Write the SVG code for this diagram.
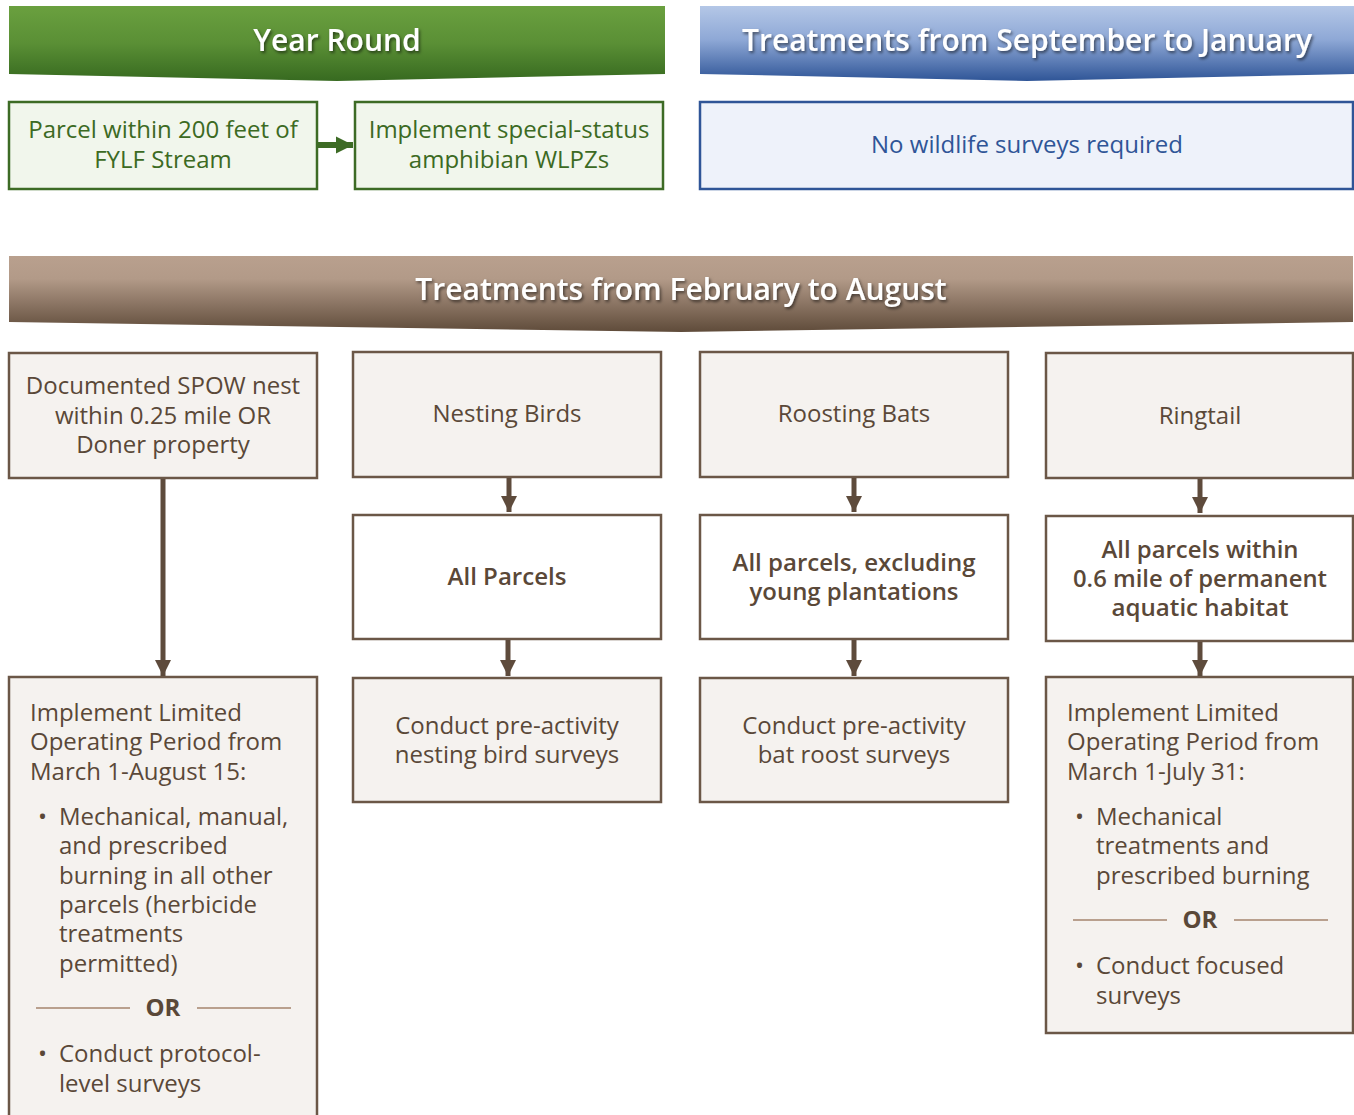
<svg xmlns="http://www.w3.org/2000/svg" width="1354" height="1115" viewBox="0 0 1354 1115">
  <defs>
    <linearGradient id="gGreen" x1="0" y1="0" x2="0" y2="1">
      <stop offset="0" stop-color="#6aa03f"/>
      <stop offset="0.5" stop-color="#5a8f35"/>
      <stop offset="1" stop-color="#376a20"/>
    </linearGradient>
    <linearGradient id="gBlue" x1="0" y1="0" x2="0" y2="1">
      <stop offset="0" stop-color="#b4c7e7"/>
      <stop offset="0.45" stop-color="#8ea8d6"/>
      <stop offset="1" stop-color="#2f5597"/>
    </linearGradient>
    <linearGradient id="gBrown" x1="0" y1="0" x2="0" y2="1">
      <stop offset="0" stop-color="#b9a08e"/>
      <stop offset="0.3" stop-color="#b29a88"/>
      <stop offset="1" stop-color="#5f4b3a"/>
    </linearGradient>
    <filter id="shadow" x="-10%" y="-30%" width="120%" height="160%">
      <feDropShadow dx="1.5" dy="2" stdDeviation="1.5" flood-color="#000" flood-opacity="0.55"/>
    </filter>
    <marker id="headBrown" viewBox="0 0 10 10" refX="10" refY="5" markerWidth="16" markerHeight="17" markerUnits="userSpaceOnUse" orient="auto">
      <path d="M0,0 L10,5 L0,10 Z" fill="#5e4b3c"/>
    </marker>
    <marker id="headGreen" viewBox="0 0 10 10" refX="10" refY="5" markerWidth="17" markerHeight="19" markerUnits="userSpaceOnUse" orient="auto">
      <path d="M0,0 L10,5 L0,10 Z" fill="#3d6b25"/>
    </marker>
  </defs>
  <style>
    text { font-family: "Open Sans", "Noto Sans", "DejaVu Sans", sans-serif; }
    .banner { fill: #ffffff; font-size: 30px; font-weight: 600; text-anchor: middle; filter: url(#shadow); }
    .gbox { fill: #f1f6ec; stroke: #3d6b25; stroke-width: 2.5; }
    .gtxt { fill: #3c6a23; font-size: 24px; text-anchor: middle; }
    .bbox { fill: #eef2fa; stroke: #2f5597; stroke-width: 2.5; }
    .btxt { fill: #2f5597; font-size: 24px; text-anchor: middle; }
    .nbox { fill: #f5f2ef; stroke: #6b5747; stroke-width: 2.5; }
    .wbox { fill: #ffffff; stroke: #6b5747; stroke-width: 2.5; }
    .ntxt { fill: #5a4838; font-size: 24px; text-anchor: middle; }
    .ltxt { fill: #5a4838; font-size: 24px; }
    .strong { fill: #5a4838; font-size: 24px; font-weight: 600; text-anchor: middle; }
    .orline { stroke: #b9a08e; stroke-width: 2; }
    .ortxt { fill: #5a4838; font-size: 24px; font-weight: 700; text-anchor: middle; }
    .conn { stroke: #5e4b3c; stroke-width: 5; fill: none; marker-end: url(#headBrown); }
    .gconn { stroke: #3d6b25; stroke-width: 6; fill: none; marker-end: url(#headGreen); }
  </style>

  <!-- section banners -->
  <g id="banner-year-round">
    <path d="M9,6 H665 V74 L337,81 L9,74 Z" fill="url(#gGreen)"/>
    <text class="banner" x="337" y="51">Year Round</text>
  </g>
  <g id="banner-sep-jan">
    <path d="M700,6 H1354 V74 L1027,81 L700,74 Z" fill="url(#gBlue)"/>
    <text class="banner" x="1027" y="51">Treatments from September to January</text>
  </g>
  <g id="banner-feb-aug">
    <path d="M9,256 H1353 V322 L681,332 L9,322 Z" fill="url(#gBrown)"/>
    <text class="banner" x="681" y="300">Treatments from February to August</text>
  </g>

  <!-- year round -->
  <g id="fylf-parcel">
    <rect class="gbox" x="9" y="102" width="308" height="87"/>
    <text class="gtxt" x="163" y="138">Parcel within 200 feet of</text>
    <text class="gtxt" x="163" y="168">FYLF Stream</text>
  </g>
  <g id="fylf-wlpz">
    <rect class="gbox" x="355" y="102" width="308" height="87"/>
    <text class="gtxt" x="509" y="138">Implement special-status</text>
    <text class="gtxt" x="509" y="168">amphibian WLPZs</text>
  </g>

  <!-- september to january -->
  <g id="no-surveys">
    <rect class="bbox" x="700" y="102" width="653" height="87"/>
    <text class="btxt" x="1027" y="153">No wildlife surveys required</text>
  </g>

  <!-- spotted owl column -->
  <g id="spow">
    <rect class="nbox" x="9" y="353" width="308" height="125"/>
    <text class="ntxt" x="163" y="394">Documented SPOW nest</text>
    <text class="ntxt" x="163" y="424">within 0.25 mile OR</text>
    <text class="ntxt" x="163" y="453">Doner property</text>
  </g>
  <g id="spow-lop">
    <rect class="nbox" x="9" y="677" width="308" height="460"/>
    <text class="ltxt" x="30" y="721">Implement Limited</text>
    <text class="ltxt" x="30" y="750">Operating Period from</text>
    <text class="ltxt" x="30" y="780">March 1-August 15:</text>
    <text class="ltxt" x="38" y="825">•</text>
    <text class="ltxt" x="59" y="825">Mechanical, manual,</text>
    <text class="ltxt" x="59" y="854">and prescribed</text>
    <text class="ltxt" x="59" y="884">burning in all other</text>
    <text class="ltxt" x="59" y="913">parcels (herbicide</text>
    <text class="ltxt" x="59" y="942">treatments</text>
    <text class="ltxt" x="59" y="972">permitted)</text>
    <line class="orline" x1="36" y1="1008" x2="130" y2="1008"/>
    <text class="ortxt" x="163" y="1016">OR</text>
    <line class="orline" x1="197" y1="1008" x2="291" y2="1008"/>
    <text class="ltxt" x="38" y="1062">•</text>
    <text class="ltxt" x="59" y="1062">Conduct protocol-</text>
    <text class="ltxt" x="59" y="1092">level surveys</text>
  </g>

  <!-- nesting birds column -->
  <g id="nesting-birds">
    <rect class="nbox" x="353" y="352" width="308" height="125"/>
    <text class="ntxt" x="507" y="422">Nesting Birds</text>
  </g>
  <g id="all-parcels">
    <rect class="wbox" x="353" y="515" width="308" height="124"/>
    <text class="strong" x="507" y="585" textLength="119" lengthAdjust="spacingAndGlyphs">All Parcels</text>
  </g>
  <g id="bird-surveys">
    <rect class="nbox" x="353" y="678" width="308" height="124"/>
    <text class="ntxt" x="507" y="734">Conduct pre-activity</text>
    <text class="ntxt" x="507" y="763">nesting bird surveys</text>
  </g>

  <!-- roosting bats column -->
  <g id="roosting-bats">
    <rect class="nbox" x="700" y="352" width="308" height="125"/>
    <text class="ntxt" x="854" y="422">Roosting Bats</text>
  </g>
  <g id="bat-parcels">
    <rect class="wbox" x="700" y="515" width="308" height="124"/>
    <text class="strong" x="854" y="571" textLength="243" lengthAdjust="spacingAndGlyphs">All parcels, excluding</text>
    <text class="strong" x="854" y="600" textLength="209" lengthAdjust="spacingAndGlyphs">young plantations</text>
  </g>
  <g id="bat-surveys">
    <rect class="nbox" x="700" y="678" width="308" height="124"/>
    <text class="ntxt" x="854" y="734">Conduct pre-activity</text>
    <text class="ntxt" x="854" y="763">bat roost surveys</text>
  </g>

  <!-- ringtail column -->
  <g id="ringtail">
    <rect class="nbox" x="1046" y="353" width="307" height="125"/>
    <text class="ntxt" x="1200" y="424">Ringtail</text>
  </g>
  <g id="ringtail-parcels">
    <rect class="wbox" x="1046" y="516" width="307" height="125"/>
    <text class="strong" x="1200" y="558" textLength="197" lengthAdjust="spacingAndGlyphs">All parcels within</text>
    <text class="strong" x="1200" y="587" textLength="254" lengthAdjust="spacingAndGlyphs">0.6 mile of permanent</text>
    <text class="strong" x="1200" y="616" textLength="177" lengthAdjust="spacingAndGlyphs">aquatic habitat</text>
  </g>
  <g id="ringtail-lop">
    <rect class="nbox" x="1046" y="677" width="307" height="356"/>
    <text class="ltxt" x="1067" y="721">Implement Limited</text>
    <text class="ltxt" x="1067" y="750">Operating Period from</text>
    <text class="ltxt" x="1067" y="780">March 1-July 31:</text>
    <text class="ltxt" x="1075" y="825">•</text>
    <text class="ltxt" x="1096" y="825">Mechanical</text>
    <text class="ltxt" x="1096" y="854">treatments and</text>
    <text class="ltxt" x="1096" y="884">prescribed burning</text>
    <line class="orline" x1="1073" y1="920" x2="1167" y2="920"/>
    <text class="ortxt" x="1200" y="928">OR</text>
    <line class="orline" x1="1234" y1="920" x2="1328" y2="920"/>
    <text class="ltxt" x="1075" y="974">•</text>
    <text class="ltxt" x="1096" y="974">Conduct focused</text>
    <text class="ltxt" x="1096" y="1004">surveys</text>
  </g>

  <!-- connectors -->
  <g id="connectors">
    <line class="gconn" x1="318" y1="145" x2="353" y2="145"/>
    <line class="conn" x1="163" y1="479" x2="163" y2="676"/>
    <line class="conn" x1="509" y1="478" x2="509" y2="512"/>
    <line class="conn" x1="508" y1="640" x2="508" y2="676"/>
    <line class="conn" x1="854" y1="478" x2="854" y2="512"/>
    <line class="conn" x1="854" y1="640" x2="854" y2="676"/>
    <line class="conn" x1="1200" y1="479" x2="1200" y2="513"/>
    <line class="conn" x1="1200" y1="642" x2="1200" y2="676"/>
  </g>
</svg>
